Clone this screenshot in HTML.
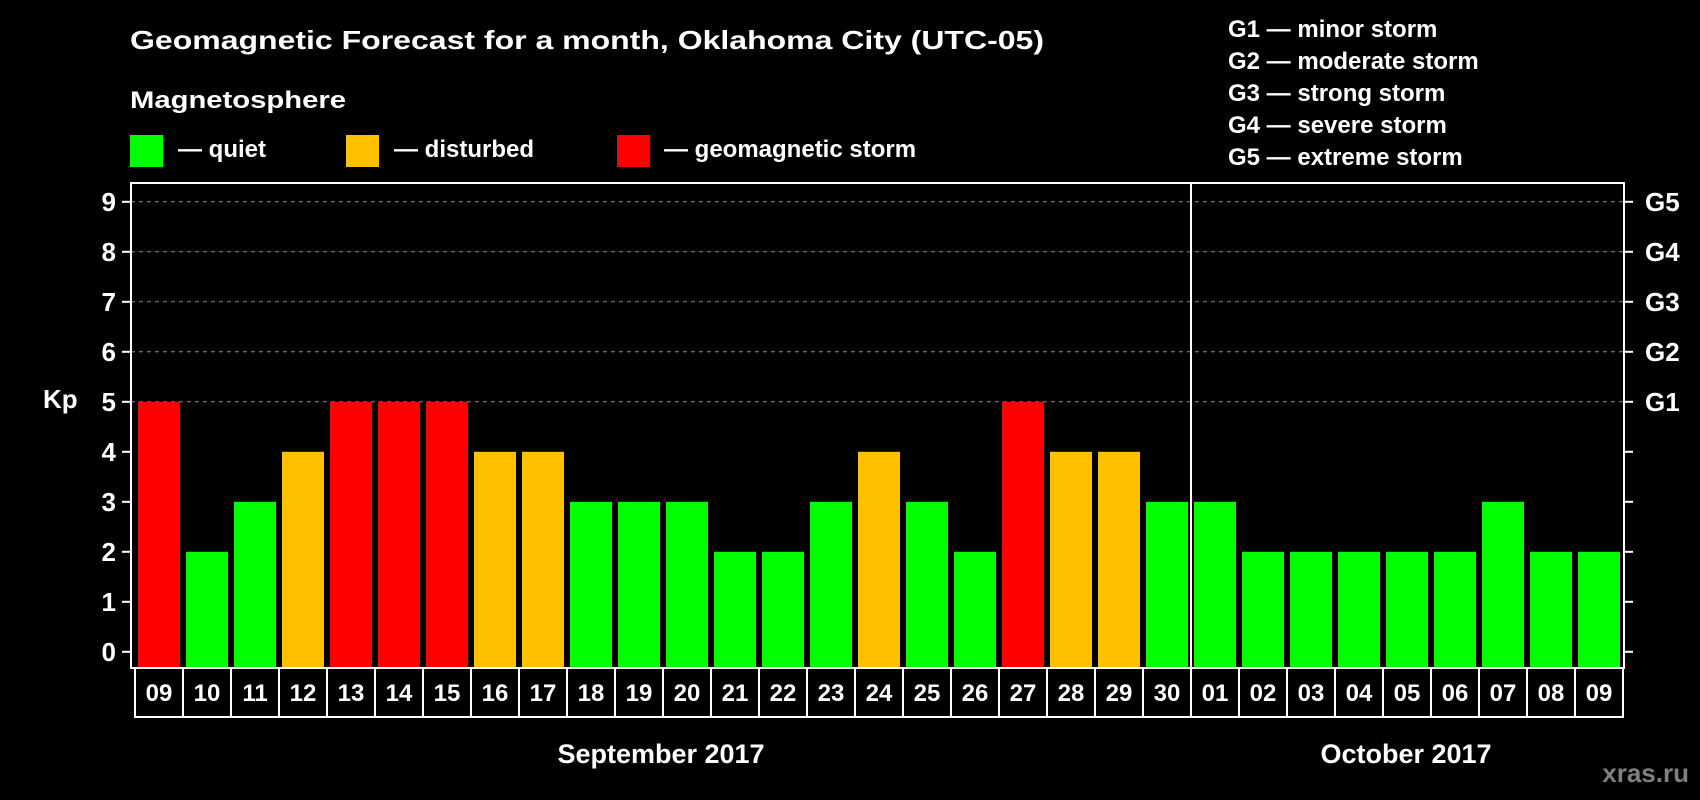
<!DOCTYPE html>
<html><head><meta charset="utf-8"><style>
html,body{margin:0;padding:0;background:#000;}
svg{display:block;font-family:"Liberation Sans",Arial,sans-serif;font-weight:bold;}
</style></head><body>
<svg id="chart" width="1700" height="800" viewBox="0 0 1700 800">
<rect x="0" y="0" width="1700" height="800" fill="#000"/>
<text x="130" y="49" fill="#fff" font-size="26" textLength="914" lengthAdjust="spacingAndGlyphs">Geomagnetic Forecast for a month, Oklahoma City (UTC-05)</text>
<text x="130" y="108" fill="#fff" font-size="24" textLength="216" lengthAdjust="spacingAndGlyphs">Magnetosphere</text>
<g>
<rect x="130" y="135" width="33" height="32" fill="#00ff00"/>
<text x="178" y="157" fill="#fff" font-size="24">— quiet</text></g>
<g>
<rect x="346" y="135" width="33" height="32" fill="#ffc000"/>
<text x="394" y="157" fill="#fff" font-size="24">— disturbed</text></g>
<g>
<rect x="617" y="135" width="33" height="32" fill="#ff0000"/>
<text x="664" y="157" fill="#fff" font-size="24">— geomagnetic storm</text></g>
<g font-size="24" fill="#fff">
<text x="1228" y="37">G1 — minor storm</text>
<text x="1228" y="69">G2 — moderate storm</text>
<text x="1228" y="101">G3 — strong storm</text>
<text x="1228" y="133">G4 — severe storm</text>
<text x="1228" y="165">G5 — extreme storm</text>
</g>
<text x="43" y="408" fill="#fff" font-size="26">Kp</text>
<g id="grid"></g><g id="bars"></g><g id="axes"></g><g id="xlabels"></g>
<text x="661" y="763" fill="#fff" font-size="27" text-anchor="middle">September 2017</text>
<text x="1406" y="763" fill="#fff" font-size="27" text-anchor="middle">October 2017</text>
<text x="1689" y="782" fill="#808080" font-size="26" text-anchor="end">xras.ru</text>
</svg>
<script>
const dayLabels = ["09","10","11","12","13","14","15","16","17","18","19","20","21","22","23","24","25","26","27","28","29","30","01","02","03","04","05","06","07","08","09"];
const kpValues = [5,2,3,4,5,5,5,4,4,3,3,3,2,2,3,4,3,2,5,4,4,3,3,2,2,2,2,2,3,2,2];
const yTicks = [0,1,2,3,4,5,6,7,8,9];
const gLabels = ["G1","G2","G3","G4","G5"];
const gLevels = [5,6,7,8,9];
const monthSplitIndex = 22;

const NS = "http://www.w3.org/2000/svg";
const plotL = 131, plotR = 1624, plotT = 183, plotB = 668;
const y0 = 651.8, unit = 50;
const slot0 = 135, slotW = 48, barInset = 3, barW = 42;
function yScale(v){ return y0 - v*unit; }
function xSlot(i){ return slot0 + i*slotW; }
function mk(tag, attrs, parent){ const e=document.createElementNS(NS,tag); for(const k in attrs) e.setAttribute(k,attrs[k]); parent.appendChild(e); return e; }
function colorFor(v){ return v>=5 ? "#ff0000" : (v>=4 ? "#ffc000" : "#00ff00"); }

const grid = document.getElementById("grid");
const bars = document.getElementById("bars");
const axes = document.getElementById("axes");
const xl = document.getElementById("xlabels");

for (const t of yTicks) {
  if (t >= 5) {
    const g = mk("line",{x1:plotL,x2:plotR,y1:yScale(t),y2:yScale(t),stroke:"#8a8a8a","stroke-width":1,"stroke-dasharray":"4,4"},grid);
    
    
  }
  const tl = mk("line",{x1:plotL-9,x2:plotL,y1:yScale(t),y2:yScale(t),stroke:"#fff","stroke-width":2},axes);
  
  
  const tr = mk("line",{x1:plotR,x2:plotR+9,y1:yScale(t),y2:yScale(t),stroke:"#fff","stroke-width":2},axes);
  
  
  const lab = mk("text",{x:116,y:yScale(t)+9,fill:"#fff","font-size":26,"text-anchor":"end"},axes);
  lab.textContent = String(t);
  
  
}
gLabels.forEach((g,i)=>{
  const t = mk("text",{x:1645,y:yScale(gLevels[i])+9,fill:"#fff","font-size":26},axes);
  t.textContent = g;
  
  
});

kpValues.forEach((v,i)=>{
  const r = mk("rect",{x:xSlot(i)+barInset,y:yScale(v),width:barW,height:plotB-yScale(v)-1,fill:colorFor(v)},bars);
  
  
});

const frame = mk("rect",{x:plotL,y:plotT,width:plotR-plotL,height:plotB-plotT,fill:"none",stroke:"#fff","stroke-width":2},axes);


const split = mk("line",{x1:xSlot(monthSplitIndex),x2:xSlot(monthSplitIndex),y1:plotT,y2:plotB,stroke:"#fff","stroke-width":2},axes);



const boxT = plotB, boxB = 717;
const box = mk("rect",{x:slot0,y:boxT,width:slotW*dayLabels.length,height:boxB-boxT,fill:"none",stroke:"#fff","stroke-width":2},xl);


dayLabels.forEach((d,i)=>{
  if (i>0) {
    const s = mk("line",{x1:xSlot(i),x2:xSlot(i),y1:boxT,y2:boxB,stroke:"#fff","stroke-width":2},xl);
    
    
  }
  const t = mk("text",{x:xSlot(i)+slotW/2,y:701,fill:"#fff","font-size":24,"text-anchor":"middle"},xl);
  t.textContent = d;
  
  
});
</script>
</body></html>
